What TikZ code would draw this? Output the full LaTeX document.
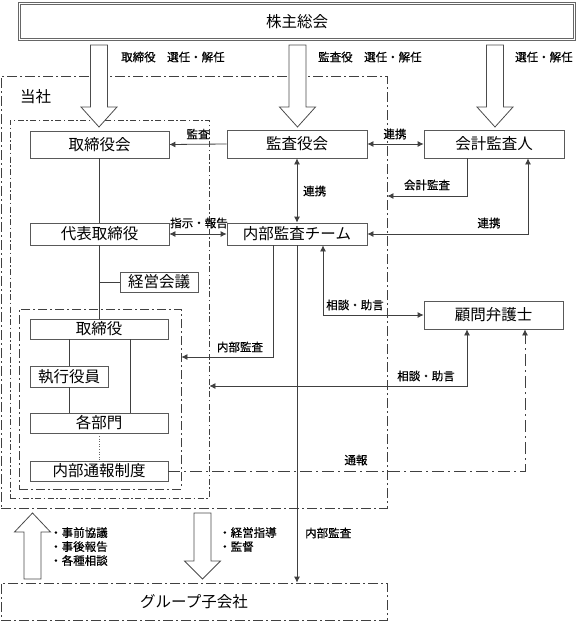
\documentclass[tikz,border=0pt]{standalone}
\usepackage{fontspec}
\setmainfont{Noto Sans CJK JP}
\newfontfamily\lblfont{Noto Sans CJK JP}[FakeBold=0.5]
\usetikzlibrary{arrows.meta}
\newcommand{\hollowarrow}[4]{%
  \draw[harrow] (#1-8.5,#2) -- (#1+8.5,#2) -- (#1+8.5,#3) -- (#1+18,#3) -- (#1,#4) -- (#1-18,#3) -- (#1-8.5,#3) -- cycle;}
\begin{document}
\begin{tikzpicture}[x=1pt,y=-1pt,
  box/.style={draw=black!65, line width=0.8pt, fill=white, inner sep=0pt,
    font=\fontsize{15.5}{15.5}\selectfont},
  region/.style={draw=black!75, line width=0.8pt, inner sep=0pt,
    dash pattern=on 10pt off 3pt on 2pt off 3pt},
  regionb/.style={draw=black!75, line width=0.8pt, inner sep=0pt,
    dash pattern=on 6pt off 2.5pt on 1.5pt off 2.5pt},
  lbl/.style={font=\lblfont\fontsize{11.5}{11.5}\selectfont, inner sep=0pt},
  conn/.style={draw=black!75, line width=0.8pt},
  tip/.style={-{Latex[length=6pt,width=6pt]}},
  dtip/.style={{Latex[length=6pt,width=6pt]}-{Latex[length=6pt,width=6pt]}},
  dashconn/.style={draw=black!75, line width=0.8pt,
    dash pattern=on 12pt off 4pt on 2pt off 4pt},
  harrow/.style={draw=black!70, line width=0.8pt, fill=white}
]
\useasboundingbox (0,0) rectangle (576,621);

% regions
\node[region, minimum width=386pt, minimum height=432pt] (tosha) at (194,292) {};
\node[regionb, minimum width=199pt, minimum height=378pt] (inner2) at (109.5,309) {};
\node[region, dash pattern=on 9pt off 3pt on 2pt off 3pt, minimum width=162pt, minimum height=180pt] (inner3) at (100,399) {};
\node[font=\fontsize{15.5}{15.5}\selectfont, inner sep=0pt, anchor=west] (toshalbl) at (20,97) {当社};

% top box
\node[box, draw=black!60, line width=0.6pt, double=white, double distance=1.8pt,
  minimum width=555pt, minimum height=36pt] (kabu) at (297,21.5) {株主総会};

% nodes
\node[box, minimum width=139pt, minimum height=27pt] (torikai) at (99.5,144.5) {取締役会};
\node[box, minimum width=140pt, minimum height=28pt] (kansa) at (297,144) {監査役会};
\node[box, minimum width=140pt, minimum height=28pt] (kaikei) at (494,144) {会計監査人};
\node[box, minimum width=139pt, minimum height=22pt] (daihyo) at (99.5,234) {代表取締役};
\node[box, minimum width=140pt, minimum height=22pt] (naibu) at (297,234) {内部監査チーム};
\node[box, minimum width=78pt, minimum height=20pt] (keiei) at (159,282) {経営会議};
\node[box, minimum width=138pt, minimum height=20pt] (tori) at (99,329) {取締役};
\node[box, minimum width=78pt, minimum height=21pt] (shikko) at (69,376.5) {執行役員};
\node[box, minimum width=138pt, minimum height=20pt] (kakubu) at (99,423) {各部門};
\node[box, minimum width=138pt, minimum height=20pt] (tsuho) at (99,471) {内部通報制度};
\node[box, minimum width=139pt, minimum height=28pt] (komon) at (493.5,315) {顧問弁護士};
\node[region, minimum width=386pt, minimum height=37pt, font=\fontsize{15.5}{15.5}\selectfont] (group) at (194,601.5) {グループ子会社};

% hollow arrows from the general meeting
\hollowarrow{99}{45}{107}{127}
\hollowarrow{297.5}{45}{107}{127}
\hollowarrow{495}{45}{107}{127}
\node[lbl, anchor=west] (l1) at (121,57) {取締役　選任・解任};
\node[lbl, anchor=west] (l2) at (318,57) {監査役　選任・解任};
\node[lbl, anchor=west] (l3) at (515,57) {選任・解任};

% connectors
\draw[conn,tip] (kansa.west) -- (torikai.east);
\node[lbl] (c1) at (198,134) {監査};
\draw[conn,dtip] (kansa.east) -- (kaikei.west);
\node[lbl] (c2) at (395,134) {連携};
\draw[conn,dtip] (kansa.south) -- (naibu.north);
\node[lbl, anchor=west] (c3) at (303,191) {連携};
\draw[conn,tip] ([xshift=-27pt]kaikei.south) |- (tosha.east |- 0,196);
\node[lbl] (c4) at (427,185) {会計監査};
\draw[conn,dtip] (naibu.east) -| ([xshift=34pt]kaikei.south);
\node[lbl] (c5) at (489,223) {連携};
\draw[conn,dtip] (daihyo.east) -- (naibu.west);
\node[lbl] (c6) at (199,223) {指示・報告};

\draw[conn] (torikai.south) -- (daihyo.north);
\draw[conn] (daihyo.south) -- (daihyo.south |- tori.north);
\draw[conn] (keiei.west) -- (keiei.west -| daihyo.south);
\draw[conn] (shikko.north) -- (shikko.north |- tori.south);
\draw[conn] (shikko.south) -- (shikko.south |- kakubu.north);
\draw[conn] ([xshift=31pt]tori.south) -- ([xshift=31pt]kakubu.north);
\draw[draw=black!60, line width=0.6pt, dotted] (kakubu.south) -- (tsuho.north);

\draw[conn,tip] ([xshift=-24pt]naibu.south) |- (inner3.east |- 0,357);
\node[lbl] (c7) at (240,347) {内部監査};
\draw[conn,tip] (naibu.south) -- (group.north -| naibu.south);
\node[lbl, anchor=west] (c8) at (305,533) {内部監査};
\draw[conn,dtip] ([xshift=26pt]naibu.south) |- (komon.west);
\node[lbl] (c9) at (355,305) {相談・助言};
\draw[conn,dtip] ([xshift=-26.5pt]komon.south) |- (inner2.east |- 0,386);
\node[lbl] (c10) at (426,376) {相談・助言};
\draw[dashconn,tip] (tsuho.east) -| ([xshift=31.5pt]komon.south);
\node[lbl] (c11) at (356,460) {通報};

% bottom arrows
\hollowarrow{32.5}{579}{532}{513}
\hollowarrow{202.5}{513}{561}{579}
\node[lbl, font=\lblfont\fontsize{11.5}{14}\selectfont, align=left, anchor=north west] (b1) at (50,527) {・事前協議\\・事後報告\\・各種相談};
\node[lbl, font=\lblfont\fontsize{11.5}{14}\selectfont, align=left, anchor=north west] (b2) at (219,527) {・経営指導\\・監督};
\end{tikzpicture}
\end{document}
